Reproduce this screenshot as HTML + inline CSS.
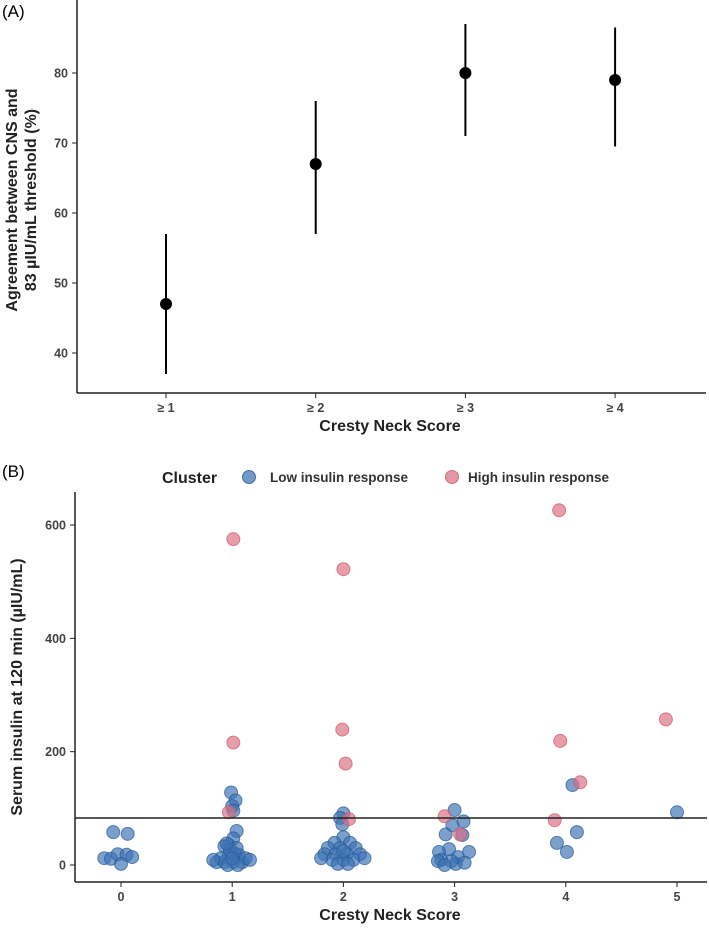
<!DOCTYPE html>
<html><head><meta charset="utf-8"><style>
body{margin:0;background:#fff;}
svg{display:block;font-family:"Liberation Sans",Arial,sans-serif;}
</style></head><body>
<svg id="c" width="709" height="928" viewBox="0 0 709 928"></svg>
<script>
// Panel A data
const aCats = ["≥ 1","≥ 2","≥ 3","≥ 4"];
const aVals = [47,67,80,79];
const aLow = [37,57,71,69.5];
const aHigh = [57,76,87,86.5];
const aTicks = [40,50,60,70,80];
// Panel B data
const bXTicks = [0,1,2,3,4,5];
const bYTicks = [0,200,400,600];
const threshold = 83;
const lowX = [-0.07,0.06,-0.15,-0.09,-0.03,0.05,0.1,0,
 0.99,1.03,1,1.01,1.04,1.01,0.97,0.93,1.02,0.97,1.06,0.86,0.93,1.01,1.09,0.9,1.12,0.98,1.04,0.83,1.16,0.96,1.05,1,0.95,
 2,1.97,1.99,2,1.92,2.06,1.86,1.97,2.11,1.83,1.93,2.03,2.15,1.9,2,2.09,1.8,2.19,1.95,2.04,2,
 3,3.08,2.98,3.07,2.92,2.95,3.13,2.86,3.03,2.88,3.01,3.09,2.85,2.97,2.91,
 4.06,4.1,3.92,4.01,
 5];
const lowY = [58,55,12,11,19,18,14,2,
 128,114,104,96,60,47,35,33,21,18,18,5,5,5,5,12,12,26,30,9,9,0,0,12,38,
 91,83,72,49,39,39,30,30,30,19,19,19,19,9,9,9,12,12,2,2,25,
 97,77,70,53,54,28,23,23,14,9,2,4,7,7,0,
 141,58,39,23,
 93];
const highX = [1.01,1.01,0.97, 2,1.99,2.02,2.05, 2.91,3.05, 3.94,3.95,4.13,3.9,4.9];
const highY = [575,216,93, 522,239,179,81, 86,54, 626,219,146,79,257];

const NS="http://www.w3.org/2000/svg";
const svg=document.getElementById('c');
function mk(tag,attrs,parent,text){const e=document.createElementNS(NS,tag);for(const k in attrs)e.setAttribute(k,attrs[k]);if(text!==undefined)e.textContent=text;(parent||svg).appendChild(e);return e;}

// ---- Panel A ----
const gA=mk('g',{});


const aY=v=>353-(v-40)*7;
const aX=i=>166+i*149.7;
let t=mk('text',{x:2,y:17,'font-size':17},gA,'(A)');

mk('line',{x1:77,y1:0,x2:77,y2:393,stroke:'#222','stroke-width':1.5},gA);
mk('line',{x1:77,y1:393,x2:706,y2:393,stroke:'#222','stroke-width':1.5},gA);
aTicks.forEach(v=>{const y=aY(v);mk('line',{x1:72,y1:y,x2:77,y2:y,stroke:'#222'},gA);
 const e=mk('text',{x:68,y:y+4.5,'font-size':12.5,'font-weight':'bold','text-anchor':'end',fill:'#444'},gA,v);
 });
aCats.forEach((c,i)=>{const x=aX(i);mk('line',{x1:x,y1:393,x2:x,y2:398,stroke:'#222'},gA);
 const e=mk('text',{x:x,y:412,'font-size':12.5,'font-weight':'bold','text-anchor':'middle',fill:'#444'},gA,c);
 
 const l=mk('line',{x1:x,y1:aY(aLow[i]),x2:x,y2:aY(aHigh[i]),stroke:'#000','stroke-width':2},gA);
 
 const p=mk('circle',{cx:x,cy:aY(aVals[i]),r:6,fill:'#000'},gA);
 });
t=mk('text',{x:390,y:431,'font-size':16,'font-weight':'bold','text-anchor':'middle',fill:'#222'},gA,'Cresty Neck Score');

t=mk('text',{transform:'translate(17,200) rotate(-90)','font-size':16,'font-weight':'bold','text-anchor':'middle',fill:'#222'},gA);

mk('tspan',{x:0,dy:0},t,'Agreement between CNS and');
mk('tspan',{x:0,dy:19},t,'83 µIU/mL threshold (%)');

// ---- Panel B ----
const gB=mk('g',{});


const bY=v=>865-v*(865-525)/600;
const bX=v=>121+v*111.2;
t=mk('text',{x:2,y:477,'font-size':17},gB,'(B)');

// legend
t=mk('text',{x:162,y:483,'font-size':16,'font-weight':'bold',fill:'#222'},gB,'Cluster');

let lc=mk('circle',{cx:249,cy:477,r:6.5,fill:'rgba(60,115,180,0.72)',stroke:'rgba(40,90,150,0.8)'},gB);

t=mk('text',{x:270,y:482,'font-size':13.5,'font-weight':'bold',fill:'#333'},gB,'Low insulin response');

lc=mk('circle',{cx:452,cy:477,r:6.5,fill:'rgba(220,110,130,0.72)',stroke:'rgba(200,90,110,0.8)'},gB);

t=mk('text',{x:468,y:482,'font-size':13.5,'font-weight':'bold',fill:'#333'},gB,'High insulin response');

// axes
mk('line',{x1:75,y1:492,x2:75,y2:882,stroke:'#222','stroke-width':1.5},gB);
mk('line',{x1:75,y1:882,x2:707,y2:882,stroke:'#222','stroke-width':1.5},gB);
bYTicks.forEach(v=>{const y=bY(v);mk('line',{x1:70,y1:y,x2:75,y2:y,stroke:'#222'},gB);
 const e=mk('text',{x:66,y:y+4.5,'font-size':12.5,'font-weight':'bold','text-anchor':'end',fill:'#444'},gB,v);
 });
bXTicks.forEach(v=>{const x=bX(v);mk('line',{x1:x,y1:882,x2:x,y2:887,stroke:'#222'},gB);
 const e=mk('text',{x:x,y:901,'font-size':12.5,'font-weight':'bold','text-anchor':'middle',fill:'#444'},gB,v);
 });
t=mk('text',{x:390,y:920,'font-size':16,'font-weight':'bold','text-anchor':'middle',fill:'#222'},gB,'Cresty Neck Score');

t=mk('text',{transform:'translate(22,687) rotate(-90)','font-size':16,'font-weight':'bold','text-anchor':'middle',fill:'#222'},gB,'Serum insulin at 120 min (µIU/mL)');

lowX.forEach((x,i)=>{const c=mk('circle',{cx:bX(x),cy:bY(lowY[i]),r:6.5,fill:'rgba(60,115,180,0.68)',stroke:'rgba(40,90,150,0.7)','stroke-width':1},gB);
 });
highX.forEach((x,i)=>{const c=mk('circle',{cx:bX(x),cy:bY(highY[i]),r:6.5,fill:'rgba(220,110,130,0.68)',stroke:'rgba(200,90,110,0.7)','stroke-width':1},gB);
 });
const hl=mk('line',{x1:75,y1:bY(threshold),x2:707,y2:bY(threshold),stroke:'#222','stroke-width':1.5},gB);

</script>
</body></html>
